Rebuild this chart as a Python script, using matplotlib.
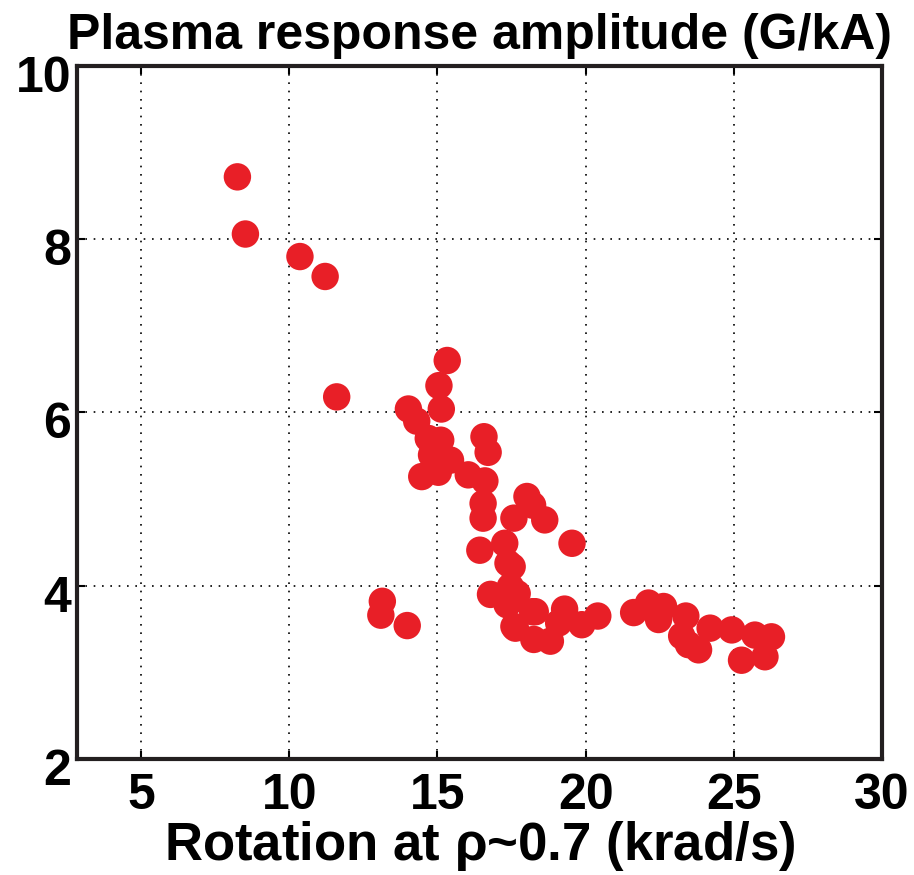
import matplotlib.pyplot as plt
import matplotlib.transforms as mtransforms
import numpy as np

# rotation at rho~0.7 (krad/s) and plasma response amplitude (G/kA)
rotation = [8.25, 8.52, 10.36, 11.21, 11.60,
            15.33, 15.05, 15.13, 14.02, 14.30, 14.69, 15.11, 14.96, 15.44, 14.47,
            15.03, 14.80, 16.04, 16.57, 16.71, 16.60, 16.54, 16.54,
            18.02, 18.21, 17.58, 18.62, 19.54, 16.43, 17.27, 17.38, 17.52,
            16.79, 17.46, 17.69, 17.52, 17.35, 17.58, 17.63, 18.30, 18.21,
            18.25, 18.81, 19.29, 19.09, 19.87, 20.41,
            13.14, 13.09, 13.98,
            21.62, 22.12, 22.63, 22.46, 23.38, 23.24, 23.47, 23.81, 24.20,
            24.93, 25.26, 25.71, 26.05, 26.27]
amplitude = [8.72, 8.06, 7.80, 7.57, 6.18,
             6.60, 6.31, 6.04, 6.04, 5.90, 5.70, 5.68, 5.49, 5.45, 5.26,
             5.31, 5.51, 5.28, 5.72, 5.54, 5.21, 4.95, 4.78,
             5.03, 4.93, 4.78, 4.76, 4.49, 4.41, 4.49, 4.26, 4.22,
             3.90, 3.99, 3.91, 3.84, 3.78, 3.53, 3.51, 3.70, 3.70,
             3.38, 3.36, 3.73, 3.57, 3.55, 3.65,
             3.82, 3.66, 3.54,
             3.69, 3.80, 3.76, 3.61, 3.65, 3.42, 3.32, 3.26, 3.51,
             3.49, 3.14, 3.43, 3.18, 3.41]

xticks = [5, 10, 15, 20, 25, 30]
yticks = [2, 4, 6, 8, 10]

plt.rcParams['font.family'] = ['Liberation Sans', 'DejaVu Sans']
plt.rcParams['font.weight'] = 'bold'

fig = plt.figure(figsize=(9.14, 8.75), dpi=100)
ax = fig.add_axes([0.084, 0.1326, 0.881, 0.792])

ax.scatter(rotation, amplitude, s=390, color='#e81f27', edgecolors='none', zorder=3)

ax.set_xlim(2.83, 30)
ax.set_ylim(2, 10)
ax.set_xticks(xticks)
ax.set_yticks(yticks)
ax.grid(True, color='black', linestyle=(0, (1, 4)), linewidth=1.2)
ax.tick_params(direction='in', length=6, width=1.5, labelsize=36, top=True, right=True)
ax.tick_params(axis='x', pad=10)
ax.tick_params(axis='y', pad=4)
for sp in ax.spines.values():
    sp.set_linewidth(3)
    sp.set_color('#231f20')

# y labels sit a bit below their ticks in the original
shift = mtransforms.ScaledTranslation(0, -8 / 100, fig.dpi_scale_trans)
for lab in ax.get_yticklabels():
    lab.set_transform(lab.get_transform() + shift)

ax.set_title('Plasma response amplitude (G/kA)', fontsize=36, fontweight='bold', pad=12)
ax.set_xlabel(r'Rotation at $\mathregular{\rho}$~0.7 (krad/s)', fontsize=38,
              fontweight='bold', labelpad=0)

plt.savefig('out.png', dpi=100)
